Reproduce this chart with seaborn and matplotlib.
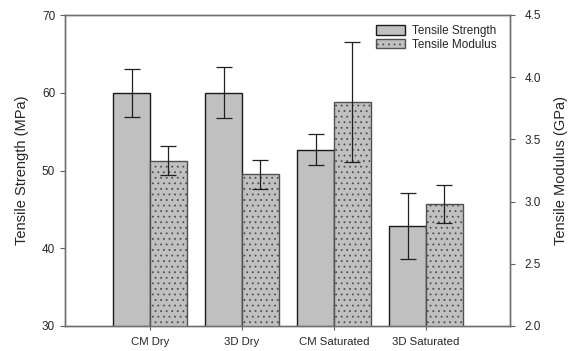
import numpy as np
import pandas as pd
import matplotlib
matplotlib.use("Agg")
import matplotlib.pyplot as plt
import seaborn as sns
from matplotlib.patches import Patch

categories = ["CM Dry", "3D Dry", "CM Saturated", "3D Saturated"]
strength = [60.0, 60.0, 52.7, 42.9]
strength_err = [3.1, 3.3, 2.05, 4.25]
modulus = [3.33, 3.22, 3.80, 2.98]
modulus_err = [0.115, 0.115, 0.48, 0.155]
series = ["Tensile Strength", "Tensile Modulus"]

sns.set_theme(style="ticks")
plt.rcParams["font.family"] = ["Liberation Sans", "DejaVu Sans"]
plt.rcParams["hatch.color"] = "#202020"
plt.rcParams["hatch.linewidth"] = 0.6

df_s = pd.DataFrame({"cat": categories, "val": strength, "series": series[0]})
df_m = pd.DataFrame({"cat": categories, "val": modulus, "series": series[1]})

fig = plt.figure(figsize=(5.70, 3.51), dpi=100)
ax = fig.add_axes([65/570, 25/351, 445/570, 311/351])
ax2 = ax.twinx()

sns.barplot(data=df_s, x="cat", y="val", hue="series", hue_order=series,
            order=categories, palette=["#c0c0c0", "#c0c0c0"], errorbar=None,
            width=0.8, dodge=True, ax=ax, edgecolor="#1a1a1a", linewidth=1.0,
            legend=False, saturation=1)
sns.barplot(data=df_m, x="cat", y="val", hue="series", hue_order=series,
            order=categories, palette=["#c0c0c0", "#c0c0c0"], errorbar=None,
            width=0.8, dodge=True, ax=ax2, edgecolor="#505050", linewidth=1.0,
            legend=False, saturation=1, hatch="...")

s_bars = list(ax.patches)
m_bars = list(ax2.patches)
for bars, vals, errs, a in [(s_bars, strength, strength_err, ax), (m_bars, modulus, modulus_err, ax2)]:
    xs = [b.get_x() + b.get_width() / 2 for b in bars]
    a.errorbar(xs, vals, yerr=errs, fmt="none", ecolor="#202020",
               elinewidth=0.9, capsize=6, capthick=0.9, zorder=5)

ax.set_xlim(-0.924, 3.913)
ax.set_ylim(30, 70)
ax2.set_ylim(2.0, 4.5)
ax.set_yticks([30, 40, 50, 60, 70])
ax2.set_yticks([2.0, 2.5, 3.0, 3.5, 4.0, 4.5])
ax2.set_yticklabels(["2.0", "2.5", "3.0", "3.5", "4.0", "4.5"])
ax.set_xlabel("")
ax.set_ylabel("Tensile Strength (MPa)", fontsize=10.5, labelpad=9)
ax2.set_ylabel("Tensile Modulus (GPa)", fontsize=10.5, labelpad=9)
ax.tick_params(axis="x", length=3, width=0.8, color="#606060", labelsize=8.2, pad=5)
ax.tick_params(axis="y", length=3.6, width=0.8, color="#606060", labelsize=8.5, pad=3.5)
ax2.tick_params(axis="y", length=3.6, width=0.8, color="#606060", labelsize=8.5, pad=7)
for a in (ax, ax2):
    for sp in a.spines.values():
        sp.set_visible(True)
        sp.set_color("#707070")
        sp.set_linewidth(1.0)

handles = [Patch(facecolor="#c0c0c0", edgecolor="#1a1a1a", label=series[0]),
           Patch(facecolor="#c0c0c0", edgecolor="#505050", hatch="...", label=series[1])]
ax2.legend(handles=handles, loc="upper right", bbox_to_anchor=(0.985, 0.99),
           frameon=False, fontsize=8.5, handlelength=2.4, handleheight=0.9,
           handletextpad=0.6, labelspacing=0.12, borderaxespad=0.2)

fig.savefig("out.png", dpi=100)
